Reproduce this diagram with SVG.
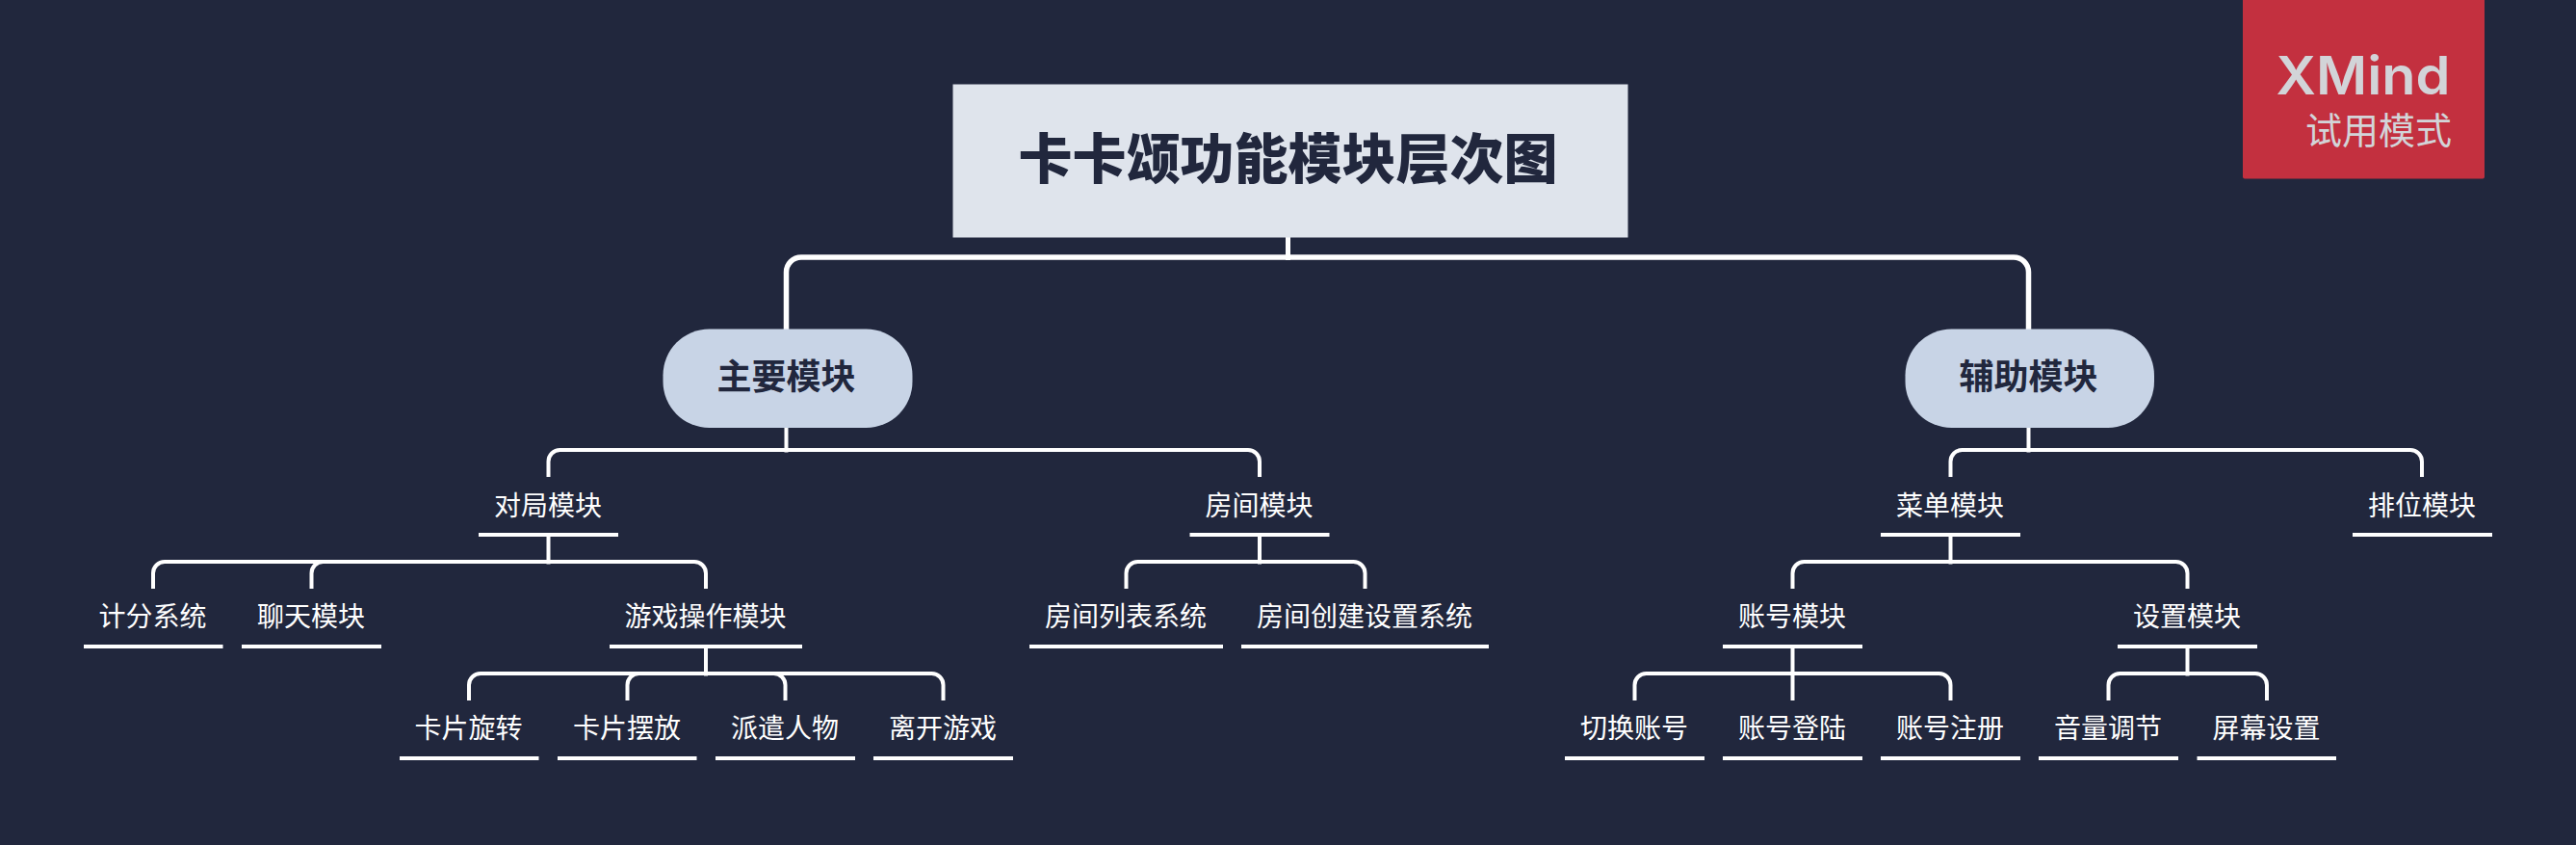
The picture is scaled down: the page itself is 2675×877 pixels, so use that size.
<svg xmlns="http://www.w3.org/2000/svg" width="2675" height="877" viewBox="0 0 2675 877">
<style>
text{font-family:"Noto Sans CJK SC","Noto Sans",sans-serif;text-anchor:middle}
.t{font-size:28px;fill:#fff}
.u{stroke:#fff;stroke-width:4;fill:none}
.c1{stroke:#fff;stroke-width:6;fill:none}
.c{stroke:#fff;stroke-width:4;fill:none}
.p{font-size:36px;font-weight:700;fill:#21273d}
.pill{fill:#c8d4e6}
</style>
<rect width="2675" height="877" fill="#21273d"/>
<g id="connectors">
<path class="c" style="stroke-width:5" d="M1337.5 246V270"/>
<path style="stroke:#fff;stroke-width:5.5;fill:none" d="M816.5 342V282.5A15.5 15.5 0 0 1 832 267H2091A15.5 15.5 0 0 1 2106.5 282.5V342"/>
<path class="c" d="M816.5 444V469.5"/>
<path class="c" d="M569.5 495V479A12 12 0 0 1 581.5 467H1296A12 12 0 0 1 1308 479V495"/>
<path class="c" d="M569.5 555V585.5"/>
<path class="c" d="M159 611V595A12 12 0 0 1 171 583H721A12 12 0 0 1 733 595V611"/>
<path class="c" d="M323.5 611V595A12 12 0 0 1 335.5 583H345"/>
<path class="c" d="M733 671V701.5"/>
<path class="c" d="M487 727V711A12 12 0 0 1 499 699H967.5A12 12 0 0 1 979.5 711V727"/>
<path class="c" d="M651.5 727V711A12 12 0 0 1 663.5 699H680"/>
<path class="c" d="M815.5 727V711A12 12 0 0 0 803.5 699H790"/>
<path class="c" d="M1308 555V585.5"/>
<path class="c" d="M1169.5 611V595A12 12 0 0 1 1181.5 583H1405.5A12 12 0 0 1 1417.5 595V611"/>
<path class="c" d="M2106.5 444V469.5"/>
<path class="c" d="M2025.5 495V479A12 12 0 0 1 2037.5 467H2503A12 12 0 0 1 2515 479V495"/>
<path class="c" d="M2025.5 555V585.5"/>
<path class="c" d="M1861.5 611V595A12 12 0 0 1 1873.5 583H2259.5A12 12 0 0 1 2271.5 595V611"/>
<path class="c" d="M1861.5 671V727"/>
<path class="c" d="M1697.5 727V711A12 12 0 0 1 1709.5 699H2013.5A12 12 0 0 1 2025.5 711V727"/>
<path class="c" d="M2271.5 671V701.5"/>
<path class="c" d="M2189.5 727V711A12 12 0 0 1 2201.5 699H2342A12 12 0 0 1 2354 711V727"/>
</g>
<g id="root"><rect x="989.5" y="87.5" width="701" height="159" fill="#dfe4ec"/><text x="1337.5" y="185" font-size="56" font-weight="900" fill="#21273d">卡卡颂功能模块层次图</text></g>
<g id="main"><rect class="pill" x="688.5" y="341.5" width="259" height="102.5" rx="48"/><text class="p" x="816.5" y="403.5">主要模块</text></g>
<g id="aux"><rect class="pill" x="1978.5" y="341.5" width="258.5" height="102.5" rx="48"/><text class="p" x="2106.5" y="403.5">辅助模块</text></g>
<g id="n1"><text class="t" x="569" y="534.5">对局模块</text><path class="u" d="M497 555H642"/></g>
<g id="n2"><text class="t" x="1307.5" y="534.5">房间模块</text><path class="u" d="M1235.5 555H1380.5"/></g>
<g id="n3"><text class="t" x="2025" y="534.5">菜单模块</text><path class="u" d="M1953 555H2098"/></g>
<g id="n4"><text class="t" x="2515" y="534.5">排位模块</text><path class="u" d="M2443 555H2588"/></g>
<g id="n5"><text class="t" x="158.5" y="650">计分系统</text><path class="u" d="M87 671H231.5"/></g>
<g id="n6"><text class="t" x="323" y="650">聊天模块</text><path class="u" d="M251 671H396"/></g>
<g id="n7"><text class="t" x="732.5" y="650">游戏操作模块</text><path class="u" d="M633 671H833"/></g>
<g id="n8"><text class="t" x="1169" y="650">房间列表系统</text><path class="u" d="M1069 671H1270"/></g>
<g id="n9"><text class="t" x="1417" y="650">房间创建设置系统</text><path class="u" d="M1289 671H1546"/></g>
<g id="n10"><text class="t" x="1861" y="650">账号模块</text><path class="u" d="M1789 671H1934"/></g>
<g id="n11"><text class="t" x="2271" y="650">设置模块</text><path class="u" d="M2199 671H2344"/></g>
<g id="n12"><text class="t" x="486.5" y="766">卡片旋转</text><path class="u" d="M415 787H559.5"/></g>
<g id="n13"><text class="t" x="651" y="766">卡片摆放</text><path class="u" d="M579 787H723.5"/></g>
<g id="n14"><text class="t" x="815" y="766">派遣人物</text><path class="u" d="M743 787H888"/></g>
<g id="n15"><text class="t" x="979" y="766">离开游戏</text><path class="u" d="M907 787H1052"/></g>
<g id="n16"><text class="t" x="1697" y="766">切换账号</text><path class="u" d="M1625 787H1770"/></g>
<g id="n17"><text class="t" x="1861" y="766">账号登陆</text><path class="u" d="M1789 787H1934"/></g>
<g id="n18"><text class="t" x="2025" y="766">账号注册</text><path class="u" d="M1953 787H2098"/></g>
<g id="n19"><text class="t" x="2189" y="766">音量调节</text><path class="u" d="M2117 787H2262"/></g>
<g id="n20"><text class="t" x="2353.5" y="766">屏幕设置</text><path class="u" d="M2281.5 787H2426"/></g>
<g id="badge"><path d="M2329 0H2580V183.5A2 2 0 0 1 2578 185.5H2331A2 2 0 0 1 2329 183.5Z" fill="#c3303f"/>
<text x="2544.5" y="97.5" font-size="55" font-weight="600" fill="#d2d4d8" textLength="181" lengthAdjust="spacingAndGlyphs" style="font-family:Inter,sans-serif;text-anchor:end">XMind</text>
<text x="2546" y="149" font-size="38" fill="#d2d4d8" style="text-anchor:end">试用模式</text></g>
</svg>
